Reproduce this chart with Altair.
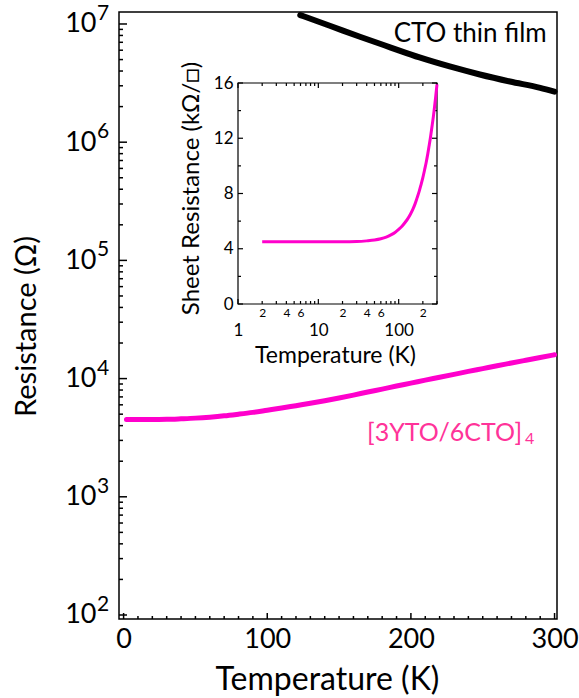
import altair as alt
import pandas as pd

# ---------------- data ----------------
film_T = [2, 4, 6, 8, 10, 15, 20, 30, 40, 50, 60, 70, 80, 90, 100, 110, 120, 130,
          140, 150, 160, 170, 180, 190, 200, 210, 220, 230, 240, 250, 260, 270, 280, 290, 300]
film_R_kohm = [4.50, 4.50, 4.50, 4.50, 4.50, 4.50, 4.50, 4.52, 4.57, 4.63, 4.72, 4.84, 5.00,
               5.18, 5.40, 5.63, 5.90, 6.18, 6.50, 6.85, 7.25, 7.70, 8.15, 8.65, 9.15, 9.70,
               10.25, 10.85, 11.50, 12.15, 12.85, 13.55, 14.30, 15.10, 15.90]
cto_T = [123, 144, 165, 186, 206, 227, 248, 269, 290, 300]
cto_R = [1.19e7, 9.62e6, 7.76e6, 6.32e6, 5.21e6, 4.37e6, 3.74e6, 3.26e6, 2.88e6, 2.68e6]

main_x_major = [0, 100, 200, 300]
main_x_minor = [v for v in range(10, 300, 10) if v % 100 != 0]
main_y_major = [1e2, 1e3, 1e4, 1e5, 1e6, 1e7]
main_y_sup = ["2", "3", "4", "5", "6", "7"]
main_y_minor = [m * d for d in [1e2, 1e3, 1e4, 1e5, 1e6] for m in range(2, 10)]

inset_x_major = [1, 10, 100]
inset_x_minor = [2, 3, 4, 5, 6, 7, 8, 9, 20, 30, 40, 50, 60, 70, 80, 90, 200, 300]
inset_x_labels = [1, 2, 4, 6, 10, 20, 40, 60, 100, 200]
inset_y_major = [0, 4, 8, 12, 16]
inset_y_minor = [2, 6, 10, 14]

# ---------------- layout ----------------
W, H = 438, 607
IN_L, IN_R, IN_T, IN_B = 119, 318, 71, 292
FONT = "Lato"
PINK = "#ff00cc"
PINK_TXT = "#ff3399"

film_df = pd.DataFrame({"T": film_T, "Rk": film_R_kohm,
                        "R": [r * 1000 for r in film_R_kohm]})
cto_df = pd.DataFrame({"T": cto_T, "R": cto_R})
dummy = pd.DataFrame({"a": [0]})

x_main = alt.Scale(domain=[-3.2, 301.7], nice=False, zero=False)
y_main = alt.Scale(type="log", domain=[92.5, 1.263e7], nice=False)

x_in = alt.Scale(type="log", domain=[1, 300], range=[IN_L, IN_R], nice=False)
y_in = alt.Scale(domain=[0, 16], range=[IN_B, IN_T], nice=False, zero=False)

# ---------------- main panel ----------------
pink_main = alt.Chart(film_df).mark_line(color=PINK, strokeWidth=5, strokeCap="round",
                                         interpolate="monotone").encode(
    x=alt.X("T:Q", scale=x_main, axis=alt.Axis(
        orient="bottom",
        values=main_x_major, labelExpr="'' + datum.value", ticks=False, domain=False, grid=False,
        labelFont=FONT, labelFontSize=27, labelColor="black", labelPadding=7, labelFlush=False,
        labelOverlap=False, title="Temperature (K)", titleFont=FONT, titleFontSize=32,
        titleFontWeight="normal", titleColor="black", titleX=208, titleY=70,
        titleBaseline="alphabetic")),
    y=alt.Y("R:Q", scale=y_main, axis=alt.Axis(
        orient="left",
        values=main_y_major, labelExpr="'10'", ticks=False, domain=False, grid=False,
        labelFont=FONT, labelFontSize=27, labelColor="black", labelPadding=23, labelFlush=False,
        labelOverlap=False, title="Resistance (Ω)", titleFont=FONT, titleFontSize=29,
        titleFontWeight="normal", titleColor="black", titleX=-84, titleY=314,
        titleBaseline="alphabetic")),
)

black_main = alt.Chart(cto_df).mark_line(color="black", strokeWidth=6, strokeCap="round",
                                         interpolate="monotone").encode(
    x=alt.X("T:Q", scale=x_main, axis=None),
    y=alt.Y("R:Q", scale=y_main, axis=None),
)

xmaj = alt.Chart(pd.DataFrame({"v": main_x_major})).mark_rule(color="black", strokeWidth=1.5).encode(
    x=alt.X("v:Q", scale=x_main, axis=None), y=alt.value(H), y2=alt.value(H - 6))
xmin = alt.Chart(pd.DataFrame({"v": main_x_minor})).mark_rule(color="black", strokeWidth=1.5).encode(
    x=alt.X("v:Q", scale=x_main, axis=None), y=alt.value(H), y2=alt.value(H - 3))
ymaj = alt.Chart(pd.DataFrame({"v": main_y_major})).mark_rule(color="black", strokeWidth=1.5).encode(
    y=alt.Y("v:Q", scale=y_main, axis=None), x=alt.value(0), x2=alt.value(8))
ymin = alt.Chart(pd.DataFrame({"v": main_y_minor})).mark_rule(color="black", strokeWidth=1.5).encode(
    y=alt.Y("v:Q", scale=y_main, axis=None), x=alt.value(0), x2=alt.value(4))

sup = alt.Chart(pd.DataFrame({"v": main_y_major, "s": main_y_sup})).mark_text(
    align="left", baseline="middle", dy=-10, fontSize=21, font=FONT, color="black").encode(
    y=alt.Y("v:Q", scale=y_main, axis=None), x=alt.value(-22), text="s:N")

lbl_cto = alt.Chart(dummy).mark_text(
    align="right", baseline="middle", fontSize=26, font=FONT, color="black", text="CTO thin film").encode(
    x=alt.XDatum(294.5, axis=None), y=alt.YDatum(8.2e6, axis=None))
lbl_sl = alt.Chart(dummy).mark_text(
    align="left", baseline="middle", fontSize=25, font=FONT, color=PINK_TXT, text="[3YTO/6CTO]").encode(
    x=alt.XDatum(169.5, axis=None), y=alt.YDatum(3470, axis=None))
lbl_sub = alt.Chart(dummy).mark_text(
    align="left", baseline="alphabetic", fontSize=16, font=FONT, color=PINK_TXT, text="4").encode(
    x=alt.XDatum(279.5, axis=None), y=alt.YDatum(2820, axis=None))

main = alt.layer(pink_main, black_main, xmaj, xmin, ymaj, ymin, sup, lbl_cto, lbl_sl, lbl_sub
                 ).resolve_axis(x="independent", y="independent")

# ---------------- inset ----------------
frame = alt.Chart(pd.DataFrame({"x1": [1], "x2": [300], "y1": [0], "y2": [16]})).mark_rect(
    fill="white", stroke="black", strokeWidth=1.2).encode(
    x=alt.X("x1:Q", scale=x_in, axis=None), x2="x2:Q",
    y=alt.Y("y1:Q", scale=y_in, axis=None), y2="y2:Q")

major_test = "datum.value == 1 || datum.value == 10 || datum.value == 100"
inset_curve = alt.Chart(film_df).mark_line(color=PINK, strokeWidth=3, interpolate="monotone").encode(
    x=alt.X("T:Q", scale=x_in, axis=alt.Axis(
        orient="bottom", offset=-(H - IN_B), values=inset_x_labels,
        labelExpr="(" + major_test + ") ? ('' + datum.value) : substring('' + datum.value, 0, 1)",
        ticks=False, domain=False, grid=False, labelFont=FONT, labelColor="black",
        labelFontSize={"condition": {"test": major_test, "value": 17}, "value": 12},
        labelPadding={"condition": {"test": major_test, "value": 18}, "value": 3},
        labelFlush=False, labelOverlap=False,
        title="Temperature (K)", titleFont=FONT, titleFontSize=23, titleFontWeight="normal",
        titleColor="black", titleX=216, titleY=58, titleBaseline="alphabetic")),
    y=alt.Y("Rk:Q", scale=y_in, axis=alt.Axis(
        orient="left", offset=-IN_L, values=inset_y_major, labelExpr="'' + datum.value",
        ticks=False, domain=False, grid=False, labelFont=FONT, labelColor="black",
        labelFontSize=17, labelPadding=5, labelFlush=False, labelOverlap=False,
        title="Sheet Resistance (kΩ/□)", titleFont=FONT, titleFontSize=24,
        titleFontWeight="normal", titleColor="black", titleX=-40, titleY=176,
        titleBaseline="alphabetic")),
)


def xticks(vals, y0, y1):
    return alt.Chart(pd.DataFrame({"v": vals})).mark_rule(color="black", strokeWidth=1.2).encode(
        x=alt.X("v:Q", scale=x_in, axis=None), y=alt.value(y0), y2=alt.value(y1))


def yticks(vals, x0, x1):
    return alt.Chart(pd.DataFrame({"v": vals})).mark_rule(color="black", strokeWidth=1.2).encode(
        y=alt.Y("v:Q", scale=y_in, axis=None), x=alt.value(x0), x2=alt.value(x1))


inset = alt.layer(
    frame,
    xticks(inset_x_major, IN_B, IN_B - 5), xticks(inset_x_minor, IN_B, IN_B - 3),
    xticks(inset_x_major, IN_T, IN_T + 5), xticks(inset_x_minor, IN_T, IN_T + 3),
    yticks(inset_y_major, IN_L, IN_L + 5), yticks(inset_y_minor, IN_L, IN_L + 3),
    yticks(inset_y_major, IN_R, IN_R - 5), yticks(inset_y_minor, IN_R, IN_R - 3),
    inset_curve,
).resolve_axis(x="independent", y="independent")

chart = alt.layer(main, inset).resolve_scale(x="independent", y="independent").resolve_axis(
    x="independent", y="independent").properties(
    width=W, height=H,
    autosize=alt.AutoSizeParams(type="none"),
    padding={"left": 119, "top": 12, "right": 22, "bottom": 79},
).configure_view(stroke="black", strokeWidth=1.5)

chart.save("out.html", embed_options={"renderer": "svg", "actions": False})
